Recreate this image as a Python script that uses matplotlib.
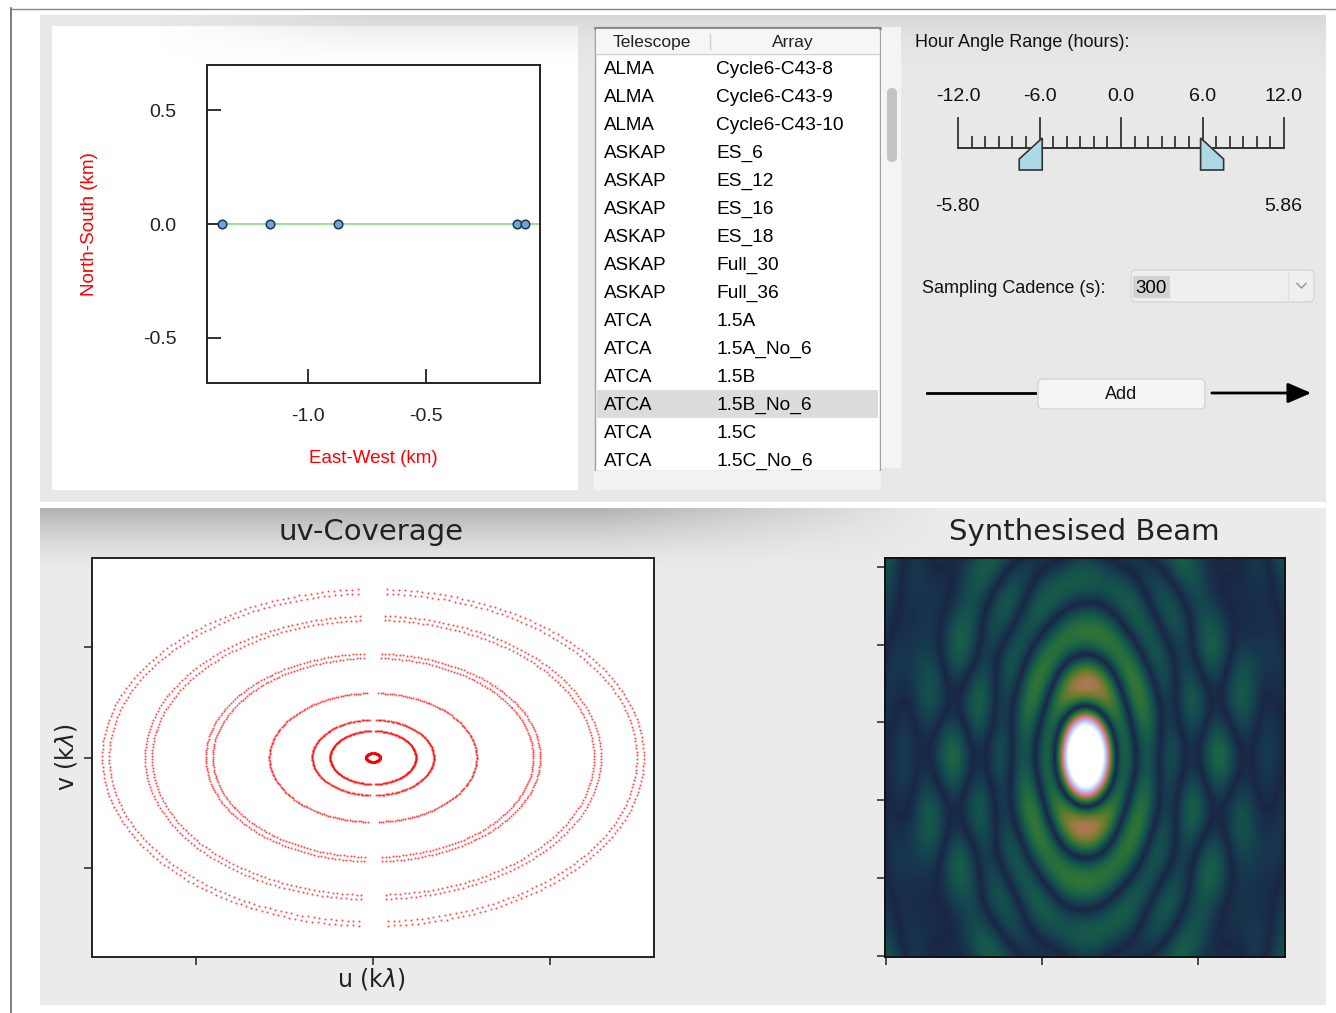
import numpy as np
import matplotlib
matplotlib.use('Agg')
import matplotlib.pyplot as plt
from matplotlib.patches import Rectangle, FancyBboxPatch, Polygon

W, H = 1336, 1013

# antenna positions (km)
ant_ew_km = [-1.364, -1.161, -0.873, -0.114, -0.081]
ant_ns_km = [0.0, 0.0, 0.0, 0.0, 0.0]

# array list
telescopes = ['ALMA', 'ALMA', 'ALMA', 'ASKAP', 'ASKAP', 'ASKAP', 'ASKAP', 'ASKAP',
              'ASKAP', 'ATCA', 'ATCA', 'ATCA', 'ATCA', 'ATCA', 'ATCA']
arrays = ['Cycle6-C43-8', 'Cycle6-C43-9', 'Cycle6-C43-10', 'ES_6', 'ES_12', 'ES_16',
          'ES_18', 'Full_30', 'Full_36', '1.5A', '1.5A_No_6', '1.5B', '1.5B_No_6',
          '1.5C', '1.5C_No_6']
selected = '1.5B_No_6'

# observation settings
ha_ticks = [-12.0, -6.0, 0.0, 6.0, 12.0]
ha_start, ha_end = -5.80, 5.86
cadence_s = 300
dec_deg = -30.0
lat_deg = -30.31
wavelength_m = 0.14
cell_arcsec = 0.7
n_fft = 512
n_pix = 256

GUI_FONT = ['Liberation Sans', 'DejaVu Sans']


def box(x0, y0, x1, y1):
    return [x0 / W, 1 - y1 / H, (x1 - x0) / W, (y1 - y0) / H]


# ---- uv tracks from the antenna positions ----
ha = np.radians(15 * np.arange(ha_start, ha_end, cadence_s / 3600))
dec = np.radians(dec_deg)
lat = np.radians(lat_deg)
ew = np.array(ant_ew_km) * 1000
ns = np.array(ant_ns_km) * 1000
us, vs = [], []
for i in range(len(ew)):
    for j in range(i + 1, len(ew)):
        E = (ew[j] - ew[i]) / wavelength_m
        N = (ns[j] - ns[i]) / wavelength_m
        X = -np.sin(lat) * N
        Y = E
        Z = np.cos(lat) * N
        us.append(np.sin(ha) * X + np.cos(ha) * Y)
        vs.append(-np.sin(dec) * np.cos(ha) * X + np.sin(dec) * np.sin(ha) * Y + np.cos(dec) * Z)
u = np.concatenate(us)
v = np.concatenate(vs)

# synthesised beam: grid the uv samples (uniform weights) and transform
cell = np.radians(cell_arcsec / 3600)
du = 1.0 / (n_fft * cell)
mask = np.zeros((n_fft, n_fft))
iu = np.round(np.r_[u, -u] / du).astype(int) % n_fft
iv = np.round(np.r_[v, -v] / du).astype(int) % n_fft
mask[iv, iu] = 1
beam = np.abs(np.fft.fftshift(np.fft.ifft2(mask)))
c0 = n_fft // 2 - n_pix // 2
beam = beam[c0:c0 + n_pix, c0:c0 + n_pix]
beam = beam / beam.max()

fig = plt.figure(figsize=(W / 100, H / 100), dpi=100)
bg = fig.add_axes([0, 0, 1, 1])
bg.set_xlim(0, W)
bg.set_ylim(H, 0)
bg.axis('off')
bg.set_autoscale_on(False)

# window frame
bg.plot([10.5, 10.5], [8, H], color='#666666', lw=1.2)
bg.plot([10, W], [8.5, 8.5], color='#888888', lw=1)

# panels
bg.add_patch(Rectangle((40, 15), 1286, 487, fc='#e8e8e8', ec='none'))
bg.add_patch(Rectangle((52, 26), 526, 464, fc='white', ec='none'))
bg.add_patch(Rectangle((40, 508), 1286, 497, fc='#ebebeb', ec='none'))

# soft shading at the top of each panel
ny, nx = 60, 400
t = np.linspace(0, 1, ny)[:, None]
xs = np.linspace(40, 1326, nx)[None, :]
a_h = np.clip((xs - 150) / 220, 0, 1)
shade = np.zeros((ny, nx, 4))
shade[..., :3] = 0.78
shade[..., 3] = 0.45 * (1 - t) ** 1.6 * a_h
bg.imshow(shade, extent=(40, 1326, 70, 15), origin='upper', aspect='auto', zorder=1)

a_h2 = np.clip((940 - xs) / 340, 0, 1)
shade2 = np.zeros((ny, nx, 4))
shade2[..., :3] = 0.55
shade2[..., 3] = 0.6 * (1 - t) ** 1.5 * a_h2
bg.imshow(shade2, extent=(40, 1326, 572, 508), origin='upper', aspect='auto', zorder=1)
bg.set_xlim(0, W)
bg.set_ylim(H, 0)

# ---- table of arrays ----
bg.add_patch(Rectangle((595, 27), 285, 444, fc='white', ec='#a0a0a0', lw=1, zorder=2))
bg.plot([595, 880], [28, 28], color='#8a8a8a', lw=2, zorder=3)
bg.add_patch(Rectangle((596, 29), 283, 24, fc='#f6f6f6', ec='none', zorder=3))
bg.plot([596, 879], [53.5, 53.5], color='#d0d0d0', lw=1, zorder=3)
bg.plot([710, 710], [34, 49], color='#d0d0d0', lw=1, zorder=3)
bg.text(652, 42, 'Telescope', fontsize=12.5, family=GUI_FONT, ha='center', va='center', color='#222222', zorder=4)
bg.text(793, 42, 'Array', fontsize=12.5, family=GUI_FONT, ha='center', va='center', color='#222222', zorder=4)
for k, (tel, arr) in enumerate(zip(telescopes, arrays)):
    yc = 68 + 28 * k
    if arr == selected:
        bg.add_patch(Rectangle((597, yc - 14), 281, 28, fc='#dcdcdc', ec='none', zorder=3))
    bg.text(604, yc + 1, tel, fontsize=13.5, family=GUI_FONT, va='center', color='black', zorder=4)
    bg.text(716, yc + 1, arr, fontsize=13.8, family=GUI_FONT, va='center', color='black', zorder=4)
bg.add_patch(Rectangle((594, 471), 287, 19, fc='#f2f2f2', ec='none', zorder=4))
bg.add_patch(Rectangle((881, 27), 20, 441, fc='#f4f4f4', ec='none', zorder=2))
bg.add_patch(FancyBboxPatch((887, 88), 10, 74, boxstyle='round,pad=0,rounding_size=5',
                            fc='#c4c4c4', ec='none', zorder=3))

# ---- hour angle slider ----
def sx(h):
    return 958 + (h + 12) / 24 * 326


bg.text(915, 42, 'Hour Angle Range (hours):', fontsize=13, family=GUI_FONT, va='center', color='#111111')
bg.plot([sx(-12), sx(12)], [148, 148], color='#333333', lw=1.4)
for hh in range(-12, 13):
    top = 118 if hh % 6 == 0 else 137
    bg.plot([sx(hh), sx(hh)], [top, 148], color='#333333', lw=1.3)
for hh in ha_ticks:
    bg.text(sx(hh), 96.5, '%.1f' % hh, fontsize=14, family=GUI_FONT, ha='center', va='center', color='#111111')
xl = sx(ha_start)
xr = sx(ha_end)
bg.add_patch(Polygon([(xl - 23, 170), (xl - 23, 159), (xl, 138), (xl, 170)], closed=True,
                     fc='#add8e6', ec='#333333', lw=1.2, zorder=3))
bg.add_patch(Polygon([(xr, 170), (xr, 138), (xr + 23, 159), (xr + 23, 170)], closed=True,
                     fc='#add8e6', ec='#333333', lw=1.2, zorder=3))
bg.text(957, 206.5, '%.2f' % ha_start, fontsize=14, family=GUI_FONT, ha='center', va='center', color='#111111')
bg.text(1283, 206.5, '%.2f' % ha_end, fontsize=14, family=GUI_FONT, ha='center', va='center', color='#111111')

# sampling cadence combo box
bg.text(922, 288.5, 'Sampling Cadence (s):', fontsize=13, family=GUI_FONT, va='center', color='#111111')
bg.add_patch(FancyBboxPatch((1131, 270), 183, 32, boxstyle='round,pad=0,rounding_size=5',
                            fc='#efefef', ec='#d6d6d6', lw=1, zorder=2))
bg.add_patch(Rectangle((1133, 276), 37, 22, fc='#d2d2d2', ec='none', zorder=3))
bg.plot([1288, 1288], [272, 300], color='#dedede', lw=1, zorder=3)
bg.plot([1297, 1301.5, 1306], [283.5, 288, 283.5], color='#9a9a9a', lw=1.1, zorder=3)
bg.text(1135, 288.5, str(cadence_s), fontsize=13.5, family=GUI_FONT, va='center', color='black', zorder=4)

# add button with arrow
bg.plot([927, 1035], [393, 393], color='black', lw=2)
bg.add_patch(FancyBboxPatch((1038, 379), 167, 30, boxstyle='round,pad=0,rounding_size=5',
                            fc='#f5f5f5', ec='#d4d4d4', lw=1, zorder=2))
bg.text(1121, 394.5, 'Add', fontsize=13, family=GUI_FONT, ha='center', va='center', color='#111111', zorder=3)
bg.annotate('', xy=(1314, 393), xytext=(1209, 393),
            arrowprops=dict(arrowstyle='-|>,head_length=0.65,head_width=0.28', color='black',
                            lw=2, mutation_scale=22))

# ---- antenna layout ----
ax1 = fig.add_axes(box(207, 65, 540, 383))
ax1.axhline(0, color='#8fe08f', lw=1.3, zorder=1)
ax1.scatter(ant_ew_km, ant_ns_km, s=38, fc='#6aa6d6', ec='#1d3550', lw=1.1, zorder=3)
ax1.set_xlim(-1.428, -0.017)
ax1.set_ylim(-0.70, 0.70)
ax1.set_xticks([-1.0, -0.5])
ax1.set_yticks([-0.5, 0.0, 0.5])
ax1.set_xticklabels(['-1.0', '-0.5'])
ax1.set_yticklabels(['-0.5', '0.0', '0.5'])
ax1.tick_params(axis='both', direction='in', length=10, width=1.3, labelsize=14, colors='#222222')
ax1.tick_params(axis='x', pad=18)
ax1.tick_params(axis='y', pad=22)
for lab in ax1.get_xticklabels() + ax1.get_yticklabels():
    lab.set_family(GUI_FONT)
for sp in ax1.spines.values():
    sp.set_linewidth(1.4)
    sp.set_color('#222222')
bg.text(90, 224, 'North-South (km)', rotation=90, fontsize=13.5, family=GUI_FONT,
        color='red', ha='center', va='center')
bg.text(373, 458, 'East-West (km)', fontsize=13.5, family=GUI_FONT, color='red',
        ha='center', va='center')

# ---- uv coverage ----
ax2 = fig.add_axes(box(92, 558, 654, 957))
ax2.scatter(np.r_[u, -u] / 1000, np.r_[v, -v] / 1000, s=2.2, c='red', lw=0, alpha=0.7)
ax2.set_xlim(-9.51, 9.51)
ax2.set_ylim(-5.43, 5.43)
ax2.set_xticks([-6, 0, 6])
ax2.set_yticks([-3, 0, 3])
ax2.set_xticklabels([])
ax2.set_yticklabels([])
ax2.tick_params(direction='out', length=6, width=1.1, colors='#222222')
for sp in ax2.spines.values():
    sp.set_linewidth(1.4)
    sp.set_color('#222222')
bg.text(371, 532, 'uv-Coverage', fontsize=21, ha='center', va='center', color='#222222')
bg.text(371, 979, r'u (k$\lambda$)', fontsize=17, ha='center', va='center', color='#222222')
bg.text(66, 757, r'v (k$\lambda$)', fontsize=17, rotation=90, ha='center', va='center', color='#222222')

# ---- synthesised beam ----
ax3 = fig.add_axes(box(885, 558, 1285, 957))
vmax = 0.5
ax3.imshow(beam, cmap='cubehelix', origin='lower', interpolation='bilinear',
           vmin=-0.176 * vmax, vmax=vmax, aspect='auto')
ax3.set_xticks([0, 100, 200])
ax3.set_yticks([0, 50, 100, 150, 200, 250])
ax3.set_xticklabels([])
ax3.set_yticklabels([])
ax3.tick_params(direction='out', length=6, width=1.1, colors='#222222')
for sp in ax3.spines.values():
    sp.set_linewidth(1.4)
    sp.set_color('#111111')
bg.text(1084, 532, 'Synthesised Beam', fontsize=21, ha='center', va='center', color='#222222')

fig.savefig('out.png', dpi=100)
